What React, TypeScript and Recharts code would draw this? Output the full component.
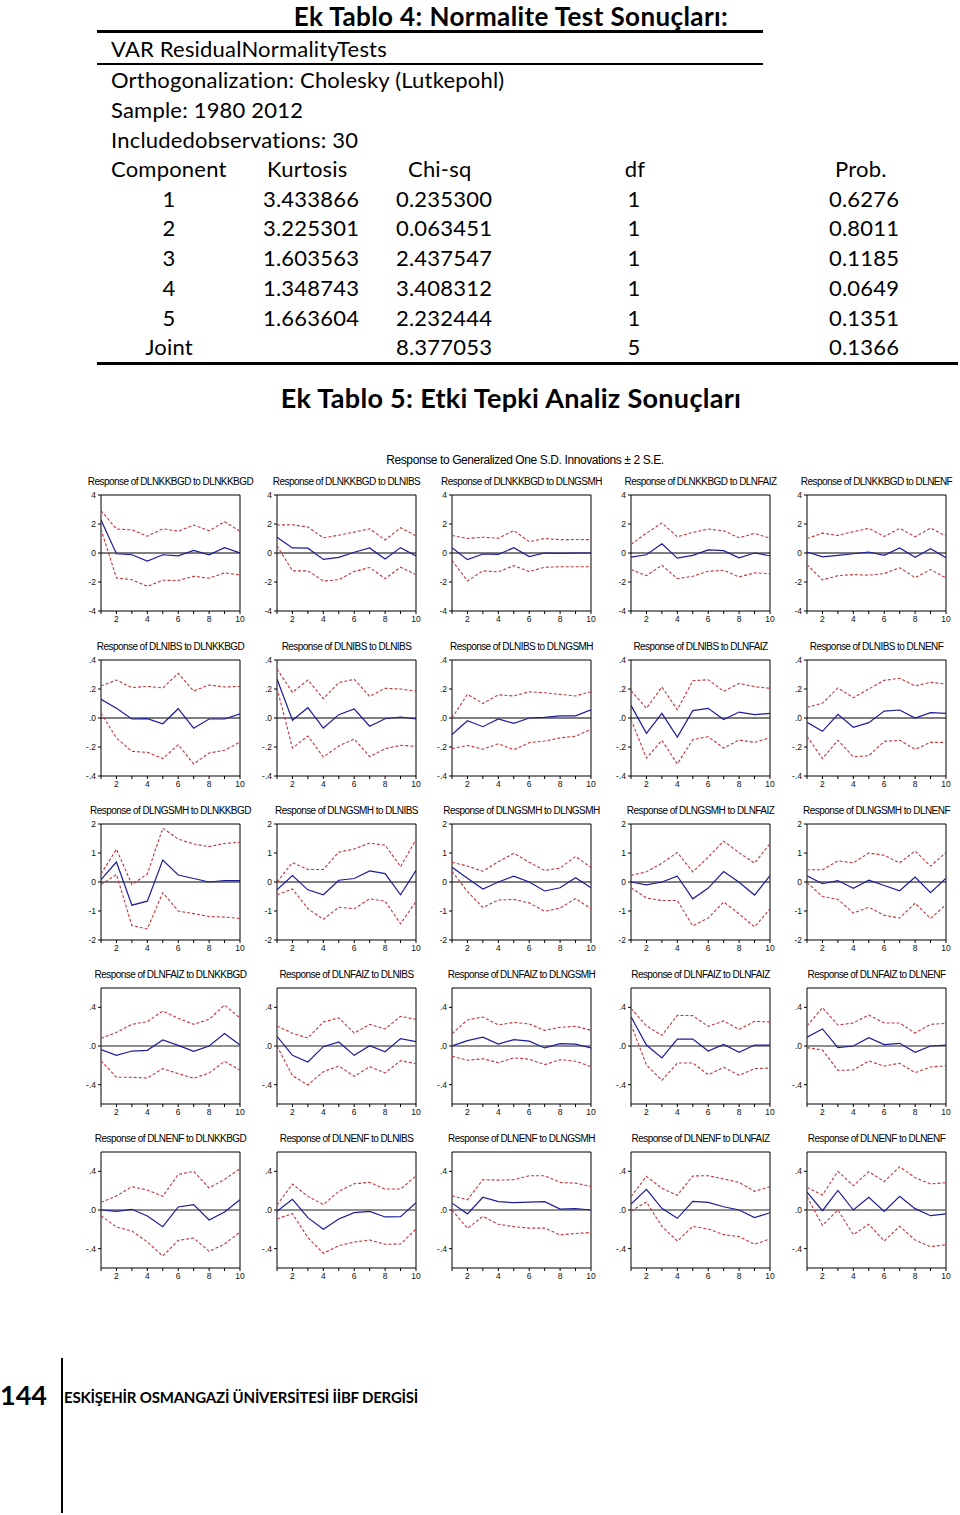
import React from 'react';
import { LineChart, Line, XAxis, YAxis, ReferenceLine, ReferenceArea } from 'recharts';

// ---------- Table data (Ek Tablo 4) ----------
const COMPONENTS = ['1', '2', '3', '4', '5', 'Joint'];
const KURTOSIS = ['3.433866', '3.225301', '1.603563', '1.348743', '1.663604', ''];
const CHISQ = ['0.235300', '0.063451', '2.437547', '3.408312', '2.232444', '8.377053'];
const DF = ['1', '1', '1', '1', '1', '5'];
const PROB = ['0.6276', '0.8011', '0.1185', '0.0649', '0.1351', '0.1366'];

// ---------- Impulse response data ----------
const VARS = ['DLNKKBGD', 'DLNIBS', 'DLNGSMH', 'DLNFAIZ', 'DLNENF'];
const PERIODS = [1, 2, 3, 4, 5, 6, 7, 8, 9, 10];

// Response of DLNKKBGD
const RESP_KKBGD = [
  [2.28, -0.05, -0.12, -0.56, -0.12, -0.2, 0.18, -0.12, 0.37, 0.0],
  [1.09, 0.35, 0.33, -0.44, -0.3, 0.05, 0.35, -0.42, 0.37, -0.2],
  [0.36, -0.46, -0.07, -0.1, 0.36, -0.25, 0.0, -0.02, 0.0, 0.0],
  [-0.28, -0.12, 0.63, -0.35, -0.16, 0.21, 0.16, -0.33, 0.0, -0.19],
  [0.07, -0.26, -0.16, -0.05, 0.07, -0.16, 0.35, -0.3, 0.3, -0.33],
];
const UP_KKBGD = [
  [2.93, 1.65, 1.6, 1.16, 1.67, 1.5, 1.93, 1.53, 2.16, 1.5],
  [1.93, 1.95, 1.79, 1.05, 1.23, 1.44, 1.67, 0.9, 1.74, 1.19],
  [1.21, 1.0, 1.09, 1.02, 1.55, 0.78, 1.0, 0.92, 0.93, 0.92],
  [0.6, 1.37, 2.07, 1.12, 1.42, 1.65, 1.53, 1.05, 1.35, 1.02],
  [1.0, 1.37, 1.21, 1.47, 1.7, 1.14, 1.7, 1.12, 1.72, 1.16],
];
const LO_KKBGD = [
  [1.65, -1.72, -1.84, -2.3, -1.88, -1.9, -1.6, -1.74, -1.37, -1.51],
  [0.5, -1.23, -1.23, -1.93, -1.84, -1.28, -1.0, -1.77, -0.98, -1.49],
  [-0.51, -1.93, -1.23, -1.3, -0.87, -1.28, -0.98, -0.95, -0.95, -0.95],
  [-1.14, -1.56, -0.84, -1.77, -1.6, -1.26, -1.19, -1.65, -1.37, -1.42],
  [-0.79, -1.86, -1.56, -1.49, -1.53, -1.42, -1.02, -1.7, -1.14, -1.72],
];

// Response of DLNIBS
const RESP_IBS = [
  [0.129, 0.067, -0.007, -0.005, -0.04, 0.064, -0.07, -0.007, -0.007, 0.028],
  [0.269, -0.016, 0.071, -0.069, 0.023, 0.062, -0.057, -0.005, 0.007, -0.007],
  [-0.115, -0.019, -0.06, -0.007, -0.037, 0.0, 0.004, 0.015, 0.015, 0.056],
  [0.087, -0.106, 0.032, -0.131, 0.051, 0.067, -0.011, 0.041, 0.023, 0.032],
  [-0.03, -0.092, 0.025, -0.064, -0.032, 0.048, 0.055, 0.0, 0.037, 0.032],
];
const UP_IBS = [
  [0.22, 0.262, 0.21, 0.218, 0.207, 0.308, 0.186, 0.228, 0.214, 0.218],
  [0.338, 0.177, 0.262, 0.133, 0.244, 0.267, 0.149, 0.205, 0.2, 0.184],
  [0.0, 0.163, 0.1, 0.16, 0.152, 0.181, 0.174, 0.163, 0.152, 0.181],
  [0.189, 0.067, 0.214, 0.057, 0.257, 0.264, 0.184, 0.239, 0.216, 0.205],
  [0.074, 0.101, 0.207, 0.14, 0.2, 0.26, 0.274, 0.221, 0.246, 0.234],
];
const LO_IBS = [
  [0.035, -0.138, -0.23, -0.237, -0.28, -0.184, -0.317, -0.241, -0.223, -0.166],
  [0.207, -0.207, -0.124, -0.269, -0.193, -0.145, -0.267, -0.211, -0.189, -0.195],
  [-0.211, -0.189, -0.215, -0.178, -0.219, -0.17, -0.159, -0.137, -0.126, -0.078],
  [-0.011, -0.276, -0.154, -0.317, -0.149, -0.129, -0.207, -0.152, -0.168, -0.136],
  [-0.126, -0.28, -0.154, -0.267, -0.26, -0.161, -0.154, -0.216, -0.168, -0.168],
];

// Response of DLNGSMH
const RESP_GSMH = [
  [0.08, 0.69, -0.8, -0.66, 0.76, 0.24, 0.12, 0.0, 0.05, 0.05],
  [-0.27, 0.22, -0.27, -0.44, 0.06, 0.12, 0.38, 0.29, -0.44, 0.4],
  [0.51, 0.13, -0.24, 0.0, 0.2, 0.0, -0.31, -0.2, 0.15, -0.2],
  [0.0, -0.1, 0.0, 0.2, -0.58, -0.21, 0.36, -0.01, -0.45, 0.22],
  [0.21, -0.06, 0.05, -0.22, 0.06, -0.12, -0.3, 0.17, -0.37, 0.13],
];
const UP_GSMH = [
  [0.28, 1.13, -0.09, 0.28, 1.86, 1.48, 1.31, 1.22, 1.33, 1.37],
  [0.0, 0.67, 0.43, 0.43, 1.03, 1.14, 1.34, 1.27, 0.53, 1.47],
  [0.68, 0.55, 0.37, 0.7, 0.99, 0.68, 0.4, 0.48, 0.88, 0.5],
  [0.23, 0.35, 0.65, 1.02, 0.35, 0.86, 1.41, 1.01, 0.65, 1.33],
  [0.42, 0.42, 0.73, 0.66, 1.0, 0.92, 0.66, 1.07, 0.55, 1.02],
];
const LO_GSMH = [
  [-0.09, 0.26, -1.5, -1.62, -0.37, -1.0, -1.09, -1.19, -1.21, -1.26],
  [-0.44, -0.24, -0.92, -1.29, -0.87, -0.92, -0.58, -0.66, -1.44, -0.67],
  [0.37, -0.33, -0.88, -0.62, -0.6, -0.72, -1.01, -0.9, -0.57, -0.92],
  [-0.2, -0.55, -0.64, -0.64, -1.51, -1.24, -0.69, -1.1, -1.55, -0.92],
  [-0.02, -0.5, -0.6, -1.07, -0.87, -1.15, -1.24, -0.73, -1.26, -0.78],
];

// Response of DLNFAIZ
const RESP_FAIZ = [
  [-0.038, -0.097, -0.052, -0.045, 0.062, 0.007, -0.055, 0.0, 0.128, 0.01],
  [0.1, -0.097, -0.166, -0.007, 0.041, -0.097, 0.003, -0.059, 0.076, 0.045],
  [0.0, 0.056, 0.091, 0.02, 0.066, 0.05, -0.02, 0.025, 0.02, -0.02],
  [0.303, 0.01, -0.124, 0.072, 0.072, -0.052, 0.017, -0.066, 0.01, 0.01],
  [0.09, 0.176, -0.017, 0.0, 0.086, 0.014, 0.028, -0.066, 0.0, 0.01],
];
const UP_FAIZ = [
  [0.079, 0.141, 0.224, 0.252, 0.362, 0.286, 0.224, 0.276, 0.424, 0.29],
  [0.207, 0.131, 0.083, 0.248, 0.29, 0.134, 0.224, 0.176, 0.307, 0.276],
  [0.127, 0.27, 0.3, 0.218, 0.244, 0.228, 0.162, 0.193, 0.203, 0.162],
  [0.39, 0.207, 0.11, 0.317, 0.314, 0.203, 0.259, 0.172, 0.255, 0.248],
  [0.207, 0.397, 0.217, 0.238, 0.321, 0.238, 0.238, 0.134, 0.224, 0.234],
];
const LO_FAIZ = [
  [-0.152, -0.324, -0.324, -0.331, -0.234, -0.286, -0.334, -0.279, -0.159, -0.252],
  [0.0, -0.307, -0.403, -0.266, -0.207, -0.314, -0.214, -0.279, -0.152, -0.183],
  [-0.107, -0.147, -0.132, -0.173, -0.122, -0.137, -0.193, -0.142, -0.157, -0.213],
  [0.224, -0.197, -0.355, -0.176, -0.176, -0.297, -0.221, -0.303, -0.234, -0.228],
  [-0.017, -0.041, -0.252, -0.248, -0.155, -0.207, -0.179, -0.276, -0.217, -0.203],
];

// Response of DLNENF
const RESP_ENF = [
  [0.0, -0.014, 0.007, -0.062, -0.172, 0.031, 0.055, -0.103, -0.021, 0.107],
  [-0.014, 0.11, -0.079, -0.2, -0.093, -0.028, -0.014, -0.072, -0.069, 0.076],
  [0.071, -0.04, 0.132, 0.086, 0.076, 0.081, 0.086, 0.01, 0.015, 0.0],
  [0.062, 0.214, 0.017, -0.086, 0.09, 0.079, 0.034, 0.0, -0.079, -0.028],
  [0.186, -0.007, 0.203, 0.0, 0.131, -0.014, 0.141, 0.014, -0.059, -0.041],
];
const UP_ENF = [
  [0.079, 0.145, 0.241, 0.207, 0.141, 0.369, 0.4, 0.228, 0.317, 0.428],
  [0.052, 0.269, 0.141, 0.055, 0.193, 0.272, 0.286, 0.217, 0.217, 0.352],
  [0.147, 0.106, 0.314, 0.309, 0.314, 0.354, 0.354, 0.284, 0.278, 0.243],
  [0.138, 0.348, 0.224, 0.152, 0.352, 0.355, 0.321, 0.286, 0.193, 0.241],
  [0.234, 0.155, 0.4, 0.252, 0.397, 0.293, 0.448, 0.334, 0.269, 0.283],
];
const LO_ENF = [
  [-0.059, -0.176, -0.217, -0.331, -0.476, -0.314, -0.29, -0.428, -0.352, -0.228],
  [-0.093, -0.038, -0.286, -0.448, -0.369, -0.331, -0.31, -0.355, -0.352, -0.197],
  [0.0, -0.19, -0.066, -0.147, -0.172, -0.187, -0.187, -0.258, -0.243, -0.233],
  [-0.01, 0.083, -0.169, -0.321, -0.169, -0.197, -0.255, -0.276, -0.355, -0.3],
  [0.138, -0.159, 0.0, -0.255, -0.148, -0.321, -0.169, -0.31, -0.379, -0.359],
];

const RESP = [RESP_KKBGD, RESP_IBS, RESP_GSMH, RESP_FAIZ, RESP_ENF];
const UP = [UP_KKBGD, UP_IBS, UP_GSMH, UP_FAIZ, UP_ENF];
const LO = [LO_KKBGD, LO_IBS, LO_GSMH, LO_FAIZ, LO_ENF];

// y-axis settings per response row
const Y_DOMAINS = [[-4, 4], [-0.4, 0.4], [-2, 2], [-0.6, 0.6], [-0.6, 0.6]];
const Y_TICKS = [
  [-4, -2, 0, 2, 4],
  [-0.4, -0.2, 0, 0.2, 0.4],
  [-2, -1, 0, 1, 2],
  [-0.4, 0, 0.4],
  [-0.4, 0, 0.4],
];
const Y_TICK_LABELS = [
  ['-4', '-2', '0', '2', '4'],
  ['-.4', '-.2', '.0', '.2', '.4'],
  ['-2', '-1', '0', '1', '2'],
  ['-.4', '.0', '.4'],
  ['-.4', '.0', '.4'],
];

// ---------- layout ----------
const COL_LEFT = [101, 277, 452, 631, 807];
const ROW_TOP = [495, 660, 824, 988, 1152];
const PLOT_W = 139;
const PLOT_H = 116;
const YW = 30;
const PADT = 6;
const PADR = 6;
const XH = 20;

const ARIAL = '"Liberation Sans", Arial, sans-serif';
const CAL = 'Lato, "Open Sans", sans-serif';
const BLUE = '#1c1c9a';
const RED = '#c4363c';

function Panel({ row, col }: { row: number; col: number }) {
  const data = PERIODS.map((p, i) => ({
    p,
    r: RESP[row][col][i],
    u: UP[row][col][i],
    l: LO[row][col][i],
  }));
  const dom = Y_DOMAINS[row];
  const ticks = Y_TICKS[row];
  const labels = Y_TICK_LABELS[row];
  const fmtY = (v: number) => {
    const idx = ticks.findIndex((t) => Math.abs(t - v) < 1e-9);
    return idx >= 0 ? labels[idx] : '';
  };
  const zeroGrey = row >= 3;
  const W = YW + PLOT_W + PADR;
  const H = PADT + PLOT_H + XH;
  return (
    <div style={{ position: 'absolute', left: COL_LEFT[col] - YW, top: ROW_TOP[row] - PADT, width: W, height: H }}>
      <LineChart width={W} height={H} data={data} margin={{ top: PADT, right: PADR, left: 0, bottom: 0 }}>
        <XAxis
          dataKey="p"
          type="number"
          domain={[1, 10]}
          ticks={PERIODS}
          interval={0}
          tickFormatter={(v: number) => (v % 2 === 0 ? String(v) : '')}
          axisLine={false}
          tickLine={{ stroke: '#000' }}
          tickSize={3}
          height={XH}
          tick={{ fontSize: 8.5, fill: '#111', fontFamily: ARIAL }}
          allowDataOverflow
        />
        <YAxis
          type="number"
          domain={dom}
          ticks={ticks}
          interval={0}
          tickFormatter={fmtY}
          axisLine={false}
          tickLine={{ stroke: '#000' }}
          tickSize={3}
          width={YW}
          tick={{ fontSize: 8.5, fill: '#111', fontFamily: ARIAL }}
          allowDataOverflow
        />
        <ReferenceArea x1={1} x2={10} y1={dom[0]} y2={dom[1]} fill="none" fillOpacity={0} stroke="#000" strokeWidth={1} ifOverflow="visible" />
        <ReferenceLine y={0} stroke={zeroGrey ? '#6a6a6a' : '#000'} strokeWidth={zeroGrey ? 1.6 : 1.1} />
        <Line dataKey="u" stroke={RED} strokeWidth={1.1} strokeDasharray="3 2" dot={false} isAnimationActive={false} />
        <Line dataKey="l" stroke={RED} strokeWidth={1.1} strokeDasharray="3 2" dot={false} isAnimationActive={false} />
        <Line dataKey="r" stroke={BLUE} strokeWidth={1.2} dot={false} isAnimationActive={false} />
      </LineChart>
    </div>
  );
}

function T({ x, y, children, align = 'left', size = 22, bold = false, family = CAL, ls = 0.2, lh = 1.2 }: any) {
  const tx = align === 'center' ? '-50%' : align === 'right' ? '-100%' : '0';
  return (
    <div
      style={{
        position: 'absolute',
        left: x,
        top: y,
        transform: `translate(${tx}, -50%)`,
        fontSize: size,
        fontWeight: bold ? 700 : 400,
        fontFamily: family,
        letterSpacing: ls,
        whiteSpace: 'nowrap',
        color: '#000',
        lineHeight: lh,
      }}
    >
      {children}
    </div>
  );
}

const ROW_Y = [199, 228, 258, 288, 318, 347];

export default function App() {
  const panels: React.ReactNode[] = [];
  for (let r = 0; r < 5; r++) {
    for (let c = 0; c < 5; c++) {
      panels.push(<Panel key={`p${r}${c}`} row={r} col={c} />);
      panels.push(
        <T key={`t${r}${c}`} x={COL_LEFT[c] + PLOT_W / 2} y={ROW_TOP[r] - 13.5} align="center" size={10} family={ARIAL} ls={-0.55}>
          {`Response of ${VARS[r]} to ${VARS[c]}`}
        </T>
      );
    }
  }
  return (
    <div style={{ position: 'absolute', left: 0, top: 0, width: 960, height: 1515, background: '#fff', overflow: 'hidden' }}>
      {/* Table 4 */}
      <T x={511} y={16} align="center" size={26} bold ls={0.4} lh={1}>Ek Tablo 4: Normalite Test Sonuçları:</T>
      <div style={{ position: 'absolute', left: 97, top: 30, width: 666, height: 3, background: '#000' }} />
      <T x={111} y={49}>VAR ResidualNormalityTests</T>
      <div style={{ position: 'absolute', left: 97, top: 63, width: 666, height: 1.5, background: '#000' }} />
      <T x={111} y={80}>Orthogonalization: Cholesky (Lutkepohl)</T>
      <T x={111} y={110}>Sample: 1980 2012</T>
      <T x={111} y={140}>Includedobservations: 30</T>
      <T x={111} y={169}>Component</T>
      <T x={267} y={169}>Kurtosis</T>
      <T x={408} y={169}>Chi-sq</T>
      <T x={635} y={169} align="center">df</T>
      <T x={835} y={169}>Prob.</T>
      {COMPONENTS.map((c, i) => (
        <React.Fragment key={c}>
          <T x={169} y={ROW_Y[i]} align="center">{c}</T>
          <T x={263} y={ROW_Y[i]}>{KURTOSIS[i]}</T>
          <T x={396} y={ROW_Y[i]}>{CHISQ[i]}</T>
          <T x={634} y={ROW_Y[i]} align="center">{DF[i]}</T>
          <T x={829} y={ROW_Y[i]}>{PROB[i]}</T>
        </React.Fragment>
      ))}
      <div style={{ position: 'absolute', left: 97, top: 361.5, width: 861, height: 3, background: '#000' }} />
      <T x={511} y={398} align="center" size={27} bold ls={0.3}>Ek Tablo 5: Etki Tepki Analiz Sonuçları</T>

      {/* Impulse response grid */}
      <T x={525} y={460} align="center" size={12} family={ARIAL} ls={-0.4}>
        Response to Generalized One S.D. Innovations ± 2 S.E.
      </T>
      {panels}

      {/* Footer */}
      <T x={0} y={1395} size={27} bold ls={0}>144</T>
      <div style={{ position: 'absolute', left: 61, top: 1358, width: 2, height: 155, background: '#000' }} />
      <T x={64} y={1397} size={15} bold ls={-0.2}>ESKİŞEHİR OSMANGAZİ ÜNİVERSİTESİ İİBF DERGİSİ</T>
    </div>
  );
}
